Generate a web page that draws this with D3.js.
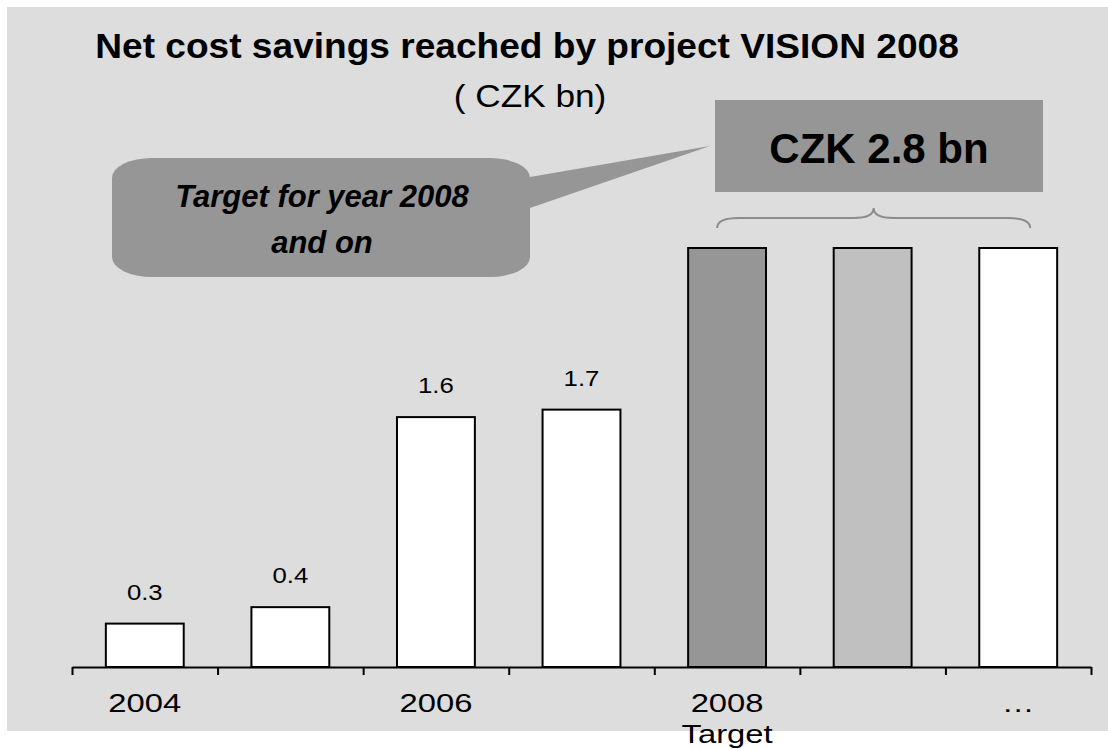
<!DOCTYPE html>
<html>
<head>
<meta charset="utf-8">
<script src="https://cdn.jsdelivr.net/npm/d3@7/dist/d3.min.js"></script>
<style>
  body { margin: 0; background: #ffffff; }
  svg text { font-family: "Liberation Sans", Arial, sans-serif; fill: #000; }
</style>
</head>
<body>
<svg id="chart"></svg>
<script>
// data
var categories = ["2004", "2005", "2006", "2007", "2008", "2009", "more"];
var values = [0.29, 0.40, 1.67, 1.72, 2.8, 2.8, 2.8];
var valueLabels = ["0.3", "0.4", "1.6", "1.7", "", "", ""];
var tickLabels = [["2004"], [""], ["2006"], [""], ["2008", "Target"], [""], ["\u2026"]];
var titleText = "Net cost savings reached by project VISION 2008";
var subtitleText = "( CZK bn)";
var calloutLines = ["Target for year 2008", "and on"];
var targetText = "CZK 2.8 bn";

var W = 1108, H = 749;
var svg = d3.select("#chart").attr("width", W).attr("height", H);

// gray slide panel
svg.append("rect")
    .attr("x", 7).attr("y", 7)
    .attr("width", W - 7).attr("height", 724)
    .style("fill", "#dddddd");

var x0 = 72, x1 = 1091, baseY = 667;

// bands: padding so the bars sit centred between the boundary ticks
var x = d3.scaleBand()
    .domain(categories)
    .range([x0, x1])
    .paddingInner(0.465)
    .paddingOuter(0.2325);

var y = d3.scaleLinear()
    .domain([0, 2.8])
    .range([baseY, 248]);

var fills = {"2008": "#969696", "2009": "#c0c0c0"};

// bars
svg.selectAll("rect.bar")
    .data(categories)
    .enter()
    .append("rect")
    .attr("class", "bar")
    .attr("x", function(d) { return x(d); })
    .attr("width", x.bandwidth())
    .attr("y", function(d, i) { return y(values[i]); })
    .attr("height", function(d, i) { return baseY - y(values[i]); })
    .style("fill", function(d) { return fills[d] || "#ffffff"; })
    .style("stroke", "#000")
    .style("stroke-width", 2);

// value labels above the bars (slightly stretched like the original)
svg.selectAll("g.vlabel")
    .data(categories)
    .enter()
    .append("g")
    .attr("class", "vlabel")
    .attr("transform", function(d, i) {
        return "translate(" + (x(d) + x.bandwidth() / 2) + "," + (y(values[i]) - 24) + ") scale(1.12,1)";
    })
    .append("text")
    .attr("text-anchor", "middle")
    .style("font-size", "23px")
    .text(function(d, i) { return valueLabels[i]; });

// axis line with ticks on the band boundaries
var boundary = d3.scaleLinear().domain([0, categories.length]).range([x0, x1]);
svg.append("g")
    .attr("class", "x axis")
    .attr("transform", "translate(0," + baseY + ")")
    .call(d3.axisBottom(boundary)
        .tickValues(d3.range(categories.length + 1))
        .tickFormat("")
        .tickSizeInner(8)
        .tickSizeOuter(0))
    .call(function(g) {
        g.select(".domain").style("stroke", "#000").style("stroke-width", 2);
        g.selectAll(".tick line").style("stroke", "#000").style("stroke-width", 2);
    });

// category labels
var lab = svg.selectAll("g.xlabel")
    .data(categories)
    .enter()
    .append("g")
    .attr("class", "xlabel")
    .attr("transform", function(d) {
        return "translate(" + (x(d) + x.bandwidth() / 2) + ",712) scale(1.26,1)";
    });
lab.each(function(d, i) {
    var g = d3.select(this);
    tickLabels[i].forEach(function(line, j) {
        g.append("text")
            .attr("text-anchor", "middle")
            .attr("y", j * 31)
            .style("font-size", "26px")
            .text(line);
    });
});

// title and unit
svg.append("g")
    .attr("transform", "translate(527,58) scale(1.06,1)")
    .append("text")
    .attr("text-anchor", "middle")
    .style("font-size", "35px")
    .style("font-weight", "bold")
    .text(titleText);

svg.append("g")
    .attr("transform", "translate(530,107) scale(1.1,1)")
    .append("text")
    .attr("text-anchor", "middle")
    .style("font-size", "32px")
    .text(subtitleText);

// callout balloon with pointer towards the target box
var cb = {x: 112, y: 158, w: 418, h: 119};
svg.append("path")
    .attr("d", "M" + (cb.x + cb.w) + "," + 177 + " L710,146 L" + (cb.x + cb.w) + ",208 Z")
    .style("fill", "#969696");
svg.append("rect")
    .attr("x", cb.x).attr("y", cb.y)
    .attr("width", cb.w).attr("height", cb.h)
    .attr("rx", 40).attr("ry", 20)
    .style("fill", "#969696");
calloutLines.forEach(function(line, i) {
    svg.append("text")
        .attr("x", cb.x + cb.w / 2 + 1)
        .attr("y", 207 + i * 46)
        .attr("text-anchor", "middle")
        .style("font-size", "31px")
        .style("font-weight", "bold")
        .style("font-style", "italic")
        .text(line);
});

// target box
svg.append("rect")
    .attr("x", 715).attr("y", 100)
    .attr("width", 328).attr("height", 92)
    .style("fill", "#969696");
svg.append("text")
    .attr("x", 879).attr("y", 163)
    .attr("text-anchor", "middle")
    .style("font-size", "42px")
    .style("font-weight", "bold")
    .text(targetText);

// curly brace over the target bars
var bl = x("2008") + x.bandwidth() / 2 - 10,
    br = x("more") + x.bandwidth() / 2 + 12,
    bm = (bl + br) / 2;
svg.append("path")
    .attr("d", "M" + bl + ",228 Q" + bl + ",218 " + (bl + 22) + ",218 L" + (bm - 20) + ",218 Q" + bm + ",218 " + bm + ",208"
        + " Q" + bm + ",218 " + (bm + 20) + ",218 L" + (br - 22) + ",218 Q" + br + ",218 " + br + ",228")
    .style("fill", "none")
    .style("stroke", "#8c8c8c")
    .style("stroke-width", 2);
</script>
</body>
</html>
